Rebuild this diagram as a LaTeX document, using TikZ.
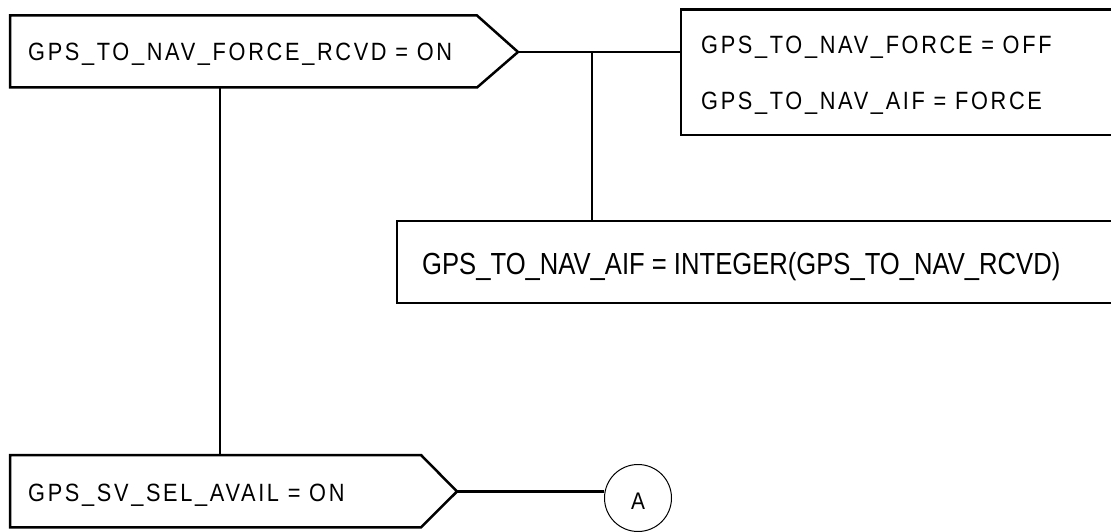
\documentclass[tikz,border=0pt]{standalone}
\usepackage{fontspec}
\setmainfont{Liberation Sans}
\newfontfamily\lblfont[FakeStretch=0.87,LetterSpace=10.7]{Liberation Sans}
\newfontfamily\wideintfont[FakeStretch=0.84]{Liberation Sans}
\begin{document}
\begin{tikzpicture}[x=1pt,y=-1pt,
  outline/.style={line width=2.5pt, line join=miter},
  conn/.style={line width=2.4pt},
  lbl/.style={inner sep=0pt, anchor=base west, font=\lblfont\fontsize{25}{30}\selectfont},
  hold/.style={inner sep=0pt, outer sep=0pt, draw=none, anchor=north west},
  conncircle/.style={circle, draw, line width=1pt, minimum size=67pt, inner sep=0pt}]
\useasboundingbox (0,0) rectangle (1111,532);

% box 1 (decision)
\node[hold, minimum width=467pt, minimum height=72pt] (b1) at (10,15.5) {};
\coordinate (b1tip) at (518,52);
\draw[outline] (b1.north west) -- (b1.north east) -- (b1tip) -- (b1.south east) -- (b1.south west) -- cycle;
\node[lbl] (t1) at (28,60.7) {GPS\_TO\_NAV\_FORCE\_RCVD = ON};

% box 2 (action)
\node[hold, minimum width=460pt, minimum height=125.7pt] (b2) at (681,9.3) {};
\draw[outline] (b2.north east) -- (b2.north west) -- (b2.south west) -- (b2.south east);
\node[lbl] (t2a) at (701,54) {GPS\_TO\_NAV\_FORCE = OFF};
\node[lbl] (t2b) at (701,110) {GPS\_TO\_NAV\_AIF = FORCE};

% box 3 (action)
\node[hold, minimum width=740pt, minimum height=82pt] (b3) at (397,221) {};
\draw[outline] (b3.north east) -- (b3.north west) -- (b3.south west) -- (b3.south east);
\node[inner sep=0pt, anchor=base west, font=\wideintfont\fontsize{30.5}{36}\selectfont] (t3) at (422,274) {GPS\_TO\_NAV\_AIF = INTEGER(GPS\_TO\_NAV\_RCVD)};

% box 4 (decision)
\node[hold, minimum width=411pt, minimum height=72.3pt] (b4) at (10,455) {};
\coordinate (b4tip) at (457,491.5);
\draw[outline] (b4.north west) -- (b4.north east) -- (b4tip) -- (b4.south east) -- (b4.south west) -- cycle;
\node[lbl] (t4) at (28,501) {GPS\_SV\_SEL\_AVAIL = ON};

% connector circle
\node[conncircle] (A) at (638,498) {};
\node[inner sep=0pt, anchor=base, font=\lblfont\fontsize{24}{29}\selectfont] (Alabel) at (638,509.3) {A};

% connectors
\coordinate (j) at (592,52);
\coordinate (v) at (220,0);
\draw[conn] (b1tip) -- (b1tip -| b2.west);
\draw[conn] (j) -- (j |- b3.north);
\draw[conn] (b1.south -| v) -- (b4.north -| v);
\draw[conn] (b4tip) -- (b4tip -| A.west);
\end{tikzpicture}
\end{document}
